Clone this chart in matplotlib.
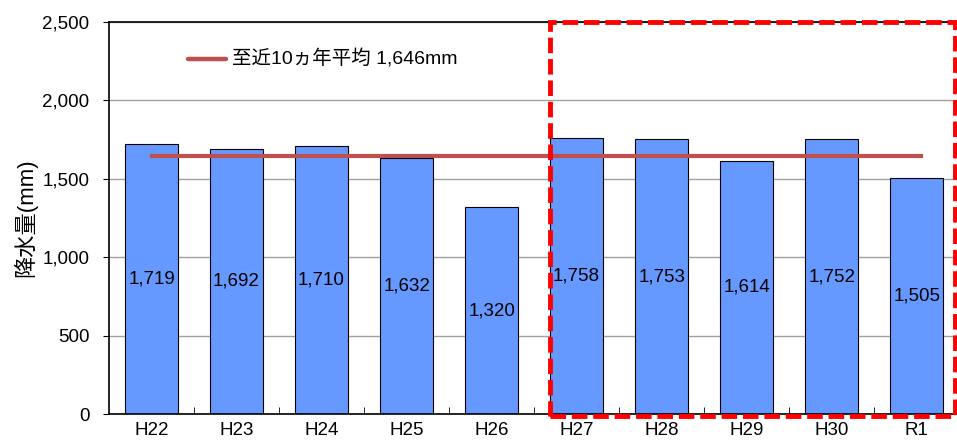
import numpy as np
import matplotlib.pyplot as plt
from matplotlib.patches import Rectangle

plt.rcParams['font.family'] = ['Liberation Sans', 'Noto Sans CJK JP']

years = ["H22", "H23", "H24", "H25", "H26", "H27", "H28", "H29", "H30", "R1"]
rainfall = [1719, 1692, 1710, 1632, 1320, 1758, 1753, 1614, 1752, 1505]
avg_10yr = 1646

fig = plt.figure(figsize=(9.57, 4.41), dpi=100)
ax = fig.add_axes([0.1139, 0.0612, 0.8884, 0.8888])

x = np.arange(len(years))
ax.bar(x, rainfall, width=0.62, color="#6699FF", edgecolor="black", linewidth=0.8, zorder=2)

for xi, v in zip(x, rainfall):
    ax.text(xi, v / 2, f"{v:,}", ha="center", va="center", fontsize=13.5, zorder=3)

ax.plot([x[0], x[-1] + 0.05], [avg_10yr, avg_10yr], color="#C0504D", linewidth=3, zorder=3)

# legend-like label for the average line
ax.plot([0.43, 0.88], [2262, 2262], color="#C0504D", linewidth=3.2, solid_capstyle="round")
ax.text(0.95, 2262, f"至近10ヵ年平均 {avg_10yr:,}mm", va="center", fontsize=14)

ax.set_xlim(-0.5, len(years) - 0.5)
ax.set_ylim(0, 2500)
ax.set_yticks(np.arange(0, 2501, 500))
ax.set_yticklabels([f"{t:,}" for t in range(0, 2501, 500)], fontsize=13.5)
ax.set_xticks(x)
ax.set_xticklabels(years, fontsize=13.5)
ax.tick_params(axis="x", length=0, pad=6)
ax.set_xticks(x[:-1] + 0.5, minor=True)
ax.tick_params(axis="x", which="minor", direction="in", length=5)
ax.tick_params(axis="y", direction="out", length=4, pad=10)
ax.yaxis.grid(True, color="#A0A0A0", linewidth=1, zorder=0)
ax.set_axisbelow(True)
ax.set_ylabel("降水量(mm)", fontsize=16, labelpad=4)

for s in ["left", "bottom", "top"]:
    ax.spines[s].set_linewidth(1.2)
ax.spines["right"].set_visible(False)

# dashed frame around H27 onward
frame = Rectangle((4.69, -0.006), 4.76, 1.006, transform=ax.get_xaxis_transform(),
                  fill=False, edgecolor="#FF0000", linewidth=3.5, linestyle=(0, (3.2, 1.2)),
                  clip_on=False, zorder=4)
ax.add_patch(frame)

fig.savefig("out.png", dpi=100)
